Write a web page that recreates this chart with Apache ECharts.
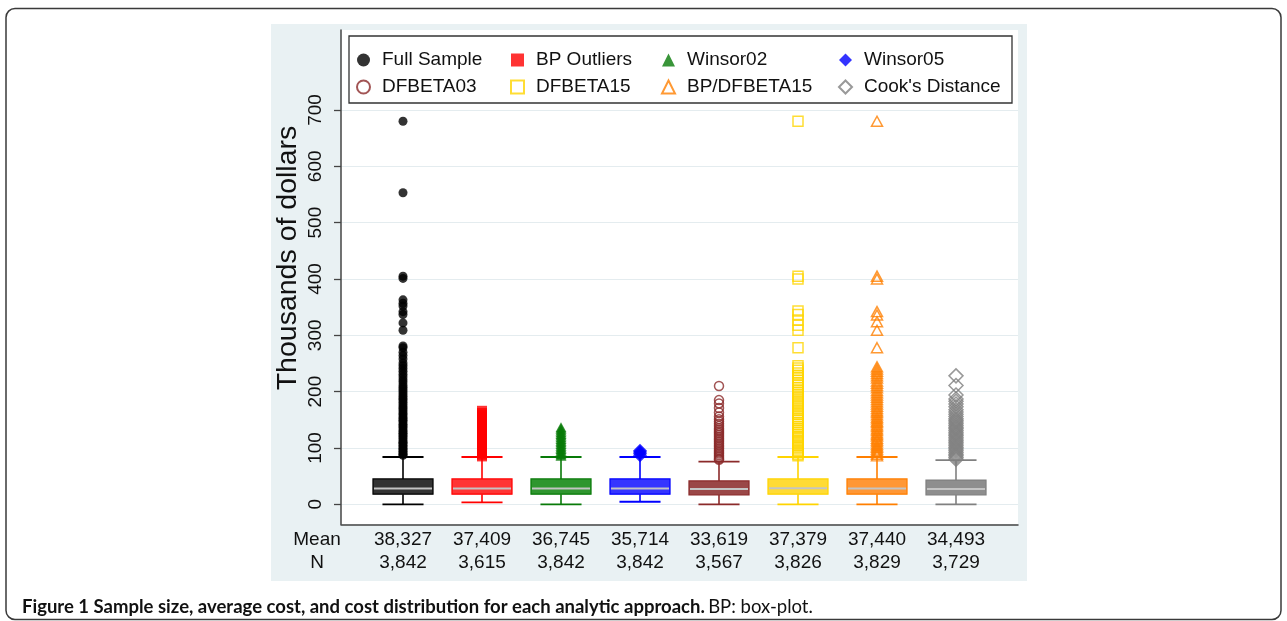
<!DOCTYPE html>
<html><head><meta charset="utf-8">
<script src="https://cdn.jsdelivr.net/npm/echarts@6/dist/echarts.min.js"></script>
<style>html,body{margin:0;padding:0;background:#fff}#c{width:1287px;height:621px}</style>
</head><body><div id="c"></div>
<script>
// ---------- data ----------
const categories = ['Full Sample', 'BP Outliers', 'Winsor02', 'Winsor05', 'DFBETA03', 'DFBETA15', 'BP/DFBETA15', "Cook's Distance"];
const meanLabels = ['38,327', '37,409', '36,745', '35,714', '33,619', '37,379', '37,440', '34,493'];
const nLabels = ['3,842', '3,615', '3,842', '3,842', '3,567', '3,826', '3,829', '3,729'];
const yTicks = [0, 100, 200, 300, 400, 500, 600, 700];

// box statistics: [lower whisker, q1, median, q3, upper whisker] (thousands of dollars)
const boxFull = [0, 18, 28, 45, 84];
const boxBP = [3.5, 18, 28, 45, 84];
const boxW02 = [0, 18, 28, 45, 84];
const boxW05 = [4.5, 18, 28, 45, 84];
const boxDF03 = [0, 16.5, 27, 41.5, 75.6];
const boxDF15 = [0, 18, 28.5, 45, 84];
const boxBPDF15 = [0, 18, 28, 45, 84];
const boxCook = [0, 16.5, 27, 43, 78.6];

// outside values
const outFull = [87, 89, 91, 94, 97, 99, 102, 105, 108, 110, 113, 117, 120, 123, 126, 129, 132, 136, 139, 142, 146, 149, 152, 155, 159, 162, 166, 170, 173, 177, 181, 185, 188, 192, 196, 200, 204, 208, 212, 217, 221, 226, 231, 236, 241, 246, 251, 258, 264, 270, 278, 281, 309, 322, 337, 342, 352, 357, 363, 401, 405, 553, 680];
const outBP = [85, 88, 91, 94, 97, 100, 103, 107, 110, 113, 116, 120, 123, 126, 130, 133, 136, 140, 143, 146, 150, 153, 156, 159, 162, 166];
const outW02 = [86, 89, 92, 95, 98, 101, 104, 107, 110, 113, 116, 119, 122, 125, 128, 131, 134, 137];
const outW05 = [87, 90, 93, 95];
const outDF03 = [79, 81, 84, 87, 90, 93, 96, 99, 102, 105, 108, 111, 114, 117, 120, 123, 126, 129, 132, 135, 139, 143, 147, 151, 156, 163, 171, 179, 185, 210];
const outDF15 = [86, 89, 92, 95, 98, 101, 104, 108, 111, 114, 118, 121, 124, 128, 131, 135, 138, 142, 145, 149, 152, 156, 160, 163, 167, 171, 175, 179, 183, 187, 191, 195, 199, 203, 207, 212, 216, 220, 225, 229, 233, 238, 242, 246, 278, 309, 318, 327, 337, 343, 400, 405, 680];
const outBPDF15 = [86, 89, 92, 95, 98, 101, 104, 107, 111, 114, 117, 121, 124, 127, 131, 134, 138, 141, 145, 148, 152, 155, 159, 163, 166, 170, 174, 178, 182, 186, 190, 194, 198, 202, 207, 211, 215, 219, 224, 228, 232, 236, 240, 244, 278, 309, 324, 336, 342, 400, 405, 680];
const outCook = [80, 83, 86, 89, 92, 95, 98, 101, 104, 107, 110, 113, 116, 119, 122, 125, 128, 131, 134, 137, 140, 143, 146, 149, 152, 156, 160, 164, 168, 173, 178, 183, 187, 194, 211, 228];

// ---------- styling ----------
const boxes = [boxFull, boxBP, boxW02, boxW05, boxDF03, boxDF15, boxBPDF15, boxCook];
const outs = [outFull, outBP, outW02, outW05, outDF03, outDF15, outBPDF15, outCook];
const lineCols = ['#000000', '#ff0000', '#087a08', '#0000ff', '#8b2a2a', '#ffd400', '#ff7f00', '#808080'];
const fillCols = ['#333333', '#ff3535', '#2f962f', '#3535ff', '#9a4747', '#ffdb35', '#ff9735', '#8e8e8e'];
const symbols = ['circle', 'rect', 'triangle', 'diamond', 'circle', 'rect', 'triangle', 'diamond'];
const symSizes = [9, 10, [11, 10], [14, 14], 9, 10, [11, 10], [14, 14]];
const hollow = [false, false, false, false, true, true, true, true];
const FONT = '"Liberation Sans", Arial, sans-serif';
const CAPFONT = 'Lato, "Open Sans", sans-serif';

const boxData = boxes.map((b, i) => [i].concat(b));

function renderBox(params, api) {
  const x = api.value(0);
  const lo = api.coord([x, api.value(1)]);
  const q1 = api.coord([x, api.value(2)]);
  const med = api.coord([x, api.value(3)]);
  const q3 = api.coord([x, api.value(4)]);
  const hi = api.coord([x, api.value(5)]);
  const band = api.size([1, 0])[0];
  const bw = band * 0.76, cw = band * 0.52, cx = lo[0];
  const lc = lineCols[params.dataIndex], fc = fillCols[params.dataIndex];
  return {
    type: 'group',
    children: [
      { type: 'line', shape: { x1: cx, y1: q3[1], x2: cx, y2: hi[1] }, style: { stroke: lc, lineWidth: 1.6 } },
      { type: 'line', shape: { x1: cx, y1: q1[1], x2: cx, y2: lo[1] }, style: { stroke: lc, lineWidth: 1.6 } },
      { type: 'line', shape: { x1: cx - cw / 2, y1: hi[1], x2: cx + cw / 2, y2: hi[1] }, style: { stroke: lc, lineWidth: 1.8 } },
      { type: 'line', shape: { x1: cx - cw / 2, y1: lo[1], x2: cx + cw / 2, y2: lo[1] }, style: { stroke: lc, lineWidth: 1.8 } },
      { type: 'rect', shape: { x: cx - bw / 2, y: q3[1], width: bw, height: q1[1] - q3[1] }, style: { fill: fc, stroke: lc, lineWidth: 1.2 } },
      { type: 'line', shape: { x1: cx - bw / 2 + 1, y1: med[1], x2: cx + bw / 2 - 1, y2: med[1] }, style: { stroke: '#c4c4c4', lineWidth: 2 } }
    ]
  };
}

const scatterSeries = categories.map((name, i) => ({
  name: name,
  type: 'scatter',
  xAxisIndex: 1, yAxisIndex: 1,
  symbol: symbols[i],
  symbolSize: symSizes[i],
  z: 3,
  silent: true,
  itemStyle: hollow[i]
    ? { color: 'rgba(255,255,255,0)', borderColor: lineCols[i], borderWidth: 1.5 }
    : { color: lineCols[i], borderWidth: 0 },
  data: outs[i].map(v => [i, v])
}));

const legendBase = {
  orient: 'vertical', top: 49, padding: 0, itemWidth: 13, itemHeight: 13, itemGap: 5,
  selectedMode: false, z: 60,
  textStyle: { fontSize: 19, lineHeight: 22, color: '#111', fontFamily: FONT, padding: [0, 0, 0, 7] }
};

const option = {
  animation: false,
  backgroundColor: '#ffffff',
  textStyle: { fontFamily: FONT },
  graphic: [
    { type: 'rect', z: -10, shape: { x: 271, y: 24, width: 756, height: 557 }, style: { fill: '#e9f1f3' } },
    { type: 'rect', z: 50, shape: { x: 6, y: 8.5, width: 1275, height: 611, r: 9 }, style: { fill: 'none', stroke: '#3a3a3a', lineWidth: 1.5 } },
    { type: 'rect', z: 50, shape: { x: 349, y: 36, width: 663, height: 67 }, style: { fill: '#ffffff', stroke: '#333', lineWidth: 1.3 } },
    { type: 'text', z: 50, x: 288, y: 258, rotation: Math.PI / 2,
      style: { text: 'Thousands of dollars', font: '28.5px ' + FONT, fill: '#111', align: 'center', verticalAlign: 'middle' } },
    { type: 'text', z: 50, x: 317, y: 540, style: { text: 'Mean', font: '19px ' + FONT, fill: '#111', align: 'center', verticalAlign: 'middle' } },
    { type: 'text', z: 50, x: 317, y: 562.5, style: { text: 'N', font: '19px ' + FONT, fill: '#111', align: 'center', verticalAlign: 'middle' } },
    { type: 'text', z: 50, x: 22, y: 607,
      style: {
        text: '{b|Figure 1 Sample size, average cost, and cost distribution for each analytic approach.} {n|BP: box-plot.}',
        verticalAlign: 'middle', align: 'left',
        rich: {
          b: { fontFamily: CAPFONT, fontWeight: 'bold', fontSize: 18.5, fill: '#111' },
          n: { fontFamily: CAPFONT, fontSize: 18.5, fill: '#111' }
        }
      } }
  ],
  legend: [
    Object.assign({}, legendBase, { left: 356, data: [categories[0], categories[4]] }),
    Object.assign({}, legendBase, { left: 510, data: [categories[1], categories[5]] }),
    Object.assign({}, legendBase, { left: 661, data: [categories[2], categories[6]] }),
    Object.assign({}, legendBase, { left: 838, data: [categories[3], categories[7]] })
  ],
  grid: [
    { left: 341, top: 30, width: 677, height: 494.3, show: true, backgroundColor: '#ffffff', borderWidth: 0 },
    { left: 363.5, top: 30, width: 632, height: 494.3 }
  ],
  xAxis: [
    { type: 'value', gridIndex: 0, min: 0, max: 1,
      axisLine: { show: true, onZero: false, lineStyle: { color: '#444', width: 1.5 } },
      axisTick: { show: false }, axisLabel: { show: false }, splitLine: { show: false } },
    { type: 'category', gridIndex: 1, data: categories,
      axisLine: { show: false }, axisTick: { show: false }, splitLine: { show: false },
      axisLabel: {
        interval: 0, margin: 4.5, fontSize: 19, lineHeight: 22.5, color: '#111', fontFamily: FONT,
        formatter: (v, i) => meanLabels[i] + '\n' + nLabels[i]
      } }
  ],
  yAxis: [
    { type: 'value', gridIndex: 0, min: -35.5, max: 842,
      axisLine: { show: true, onZero: false, lineStyle: { color: '#444', width: 1.5 } },
      axisTick: { show: true, length: 7, customValues: yTicks, lineStyle: { color: '#444', width: 1.3 } },
      axisLabel: { customValues: yTicks, rotate: 90, fontSize: 19, color: '#111', margin: 16, fontFamily: FONT },
      splitLine: { show: true, lineStyle: { color: '#e4ecef', width: 1.2 } } },
    { type: 'value', gridIndex: 1, min: -35.5, max: 842, show: false, splitLine: { show: false } }
  ],
  series: [
    { name: 'boxes', type: 'custom', xAxisIndex: 1, yAxisIndex: 1, z: 2, silent: true,
      renderItem: renderBox, encode: { x: 0, y: [1, 2, 3, 4, 5] }, data: boxData }
  ].concat(scatterSeries)
};

const chart = echarts.init(document.getElementById('c'), null, { renderer: 'canvas' });
chart.setOption(option);
</script>
</body></html>
